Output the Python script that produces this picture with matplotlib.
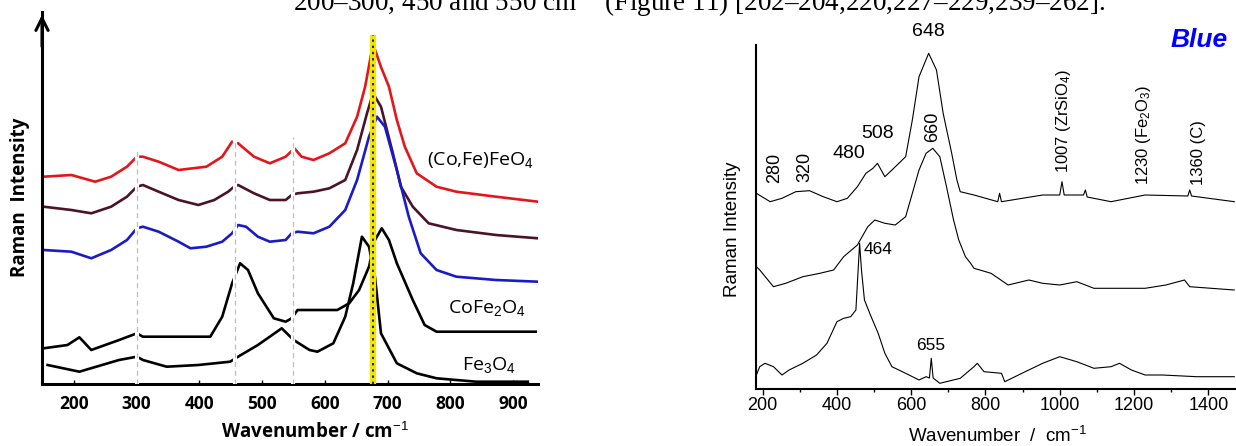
import matplotlib
matplotlib.use("Agg")
import matplotlib.pyplot as plt
from matplotlib.ticker import MultipleLocator

# ---------------- left panel: ferrite spectra (wavenumber, offset intensity) ----------------
red_x = [151.6, 195.9, 233.9, 259.2, 284.5, 300.3, 309.9, 335.1, 366.8, 411.1, 436.4, 452.2, 461.7,
         487.1, 512.3, 537.6, 551.5, 563.0, 582.0, 607.3, 632.6, 651.5, 664.3, 676.9, 689.6, 702.3,
         714.9, 727.6, 746.6, 778.2, 809.8, 873.1, 940.0]
red_y = [207.3, 209, 202.3, 207.3, 217.3, 227.3, 227.3, 222.3, 214, 217.3, 227.3, 242.3, 240.7,
         227.3, 220.7, 227.3, 235.7, 227.3, 224, 230.7, 240.7, 267.3, 297.3, 340, 317, 297.3,
         264, 237.3, 210.7, 197.3, 192.3, 187.3, 182.3]

maroon_x = [151.6, 195.9, 227.6, 259.2, 284.5, 300.3, 309.9, 335.1, 366.8, 398.4, 423.7, 445.9, 455.3,
            461.7, 487.1, 512.3, 537.6, 547.1, 556.6, 582.0, 607.3, 632.6, 651.5, 667.3, 676.9, 689.6,
            708.6, 721.3, 740.3, 765.6, 809.8, 873.1, 940.0]
maroon_y = [177.3, 174, 170.7, 177.3, 187.3, 197.3, 199, 192.3, 184, 179, 184, 192.3, 197.3,
            199, 190.7, 184, 184, 189, 190.7, 192.3, 195.7, 204, 234, 270.7, 290.7, 277.3,
            230.7, 197.3, 177.3, 160.7, 154, 149, 145.7]

blue_x = [151.6, 195.9, 227.6, 259.2, 284.5, 300.3, 309.9, 335.1, 366.8, 385.8, 411.1, 436.4, 452.2,
          461.7, 474.4, 493.3, 512.3, 537.6, 547.1, 556.6, 582.0, 607.3, 632.6, 651.5, 670.5, 683.2,
          695.9, 714.9, 733.9, 752.9, 778.2, 809.8, 873.1, 940.0]
blue_y = [134, 132.3, 125.7, 134, 144, 155.7, 157.3, 152.3, 142.3, 135.7, 137.3, 142.3, 150.7,
          159, 157.3, 147.3, 142.3, 144, 150.7, 152.3, 150.7, 157.3, 174, 204, 247.3, 267.3,
          257.3, 214, 167.3, 130.7, 114, 107.3, 104, 102.3]

cofe_x = [151.6, 189.6, 208.6, 227.6, 272, 300.3, 309.9, 417.4, 436.4, 452.2, 464.9, 477.5, 493.3,
          518.7, 537.6, 547.1, 556.6, 619.9, 638.9, 654.7, 670.5, 680, 690.8, 702.3, 714.9, 740.3,
          759.2, 778.2, 936.4]
cofe_y = [35.7, 39, 46.7, 34, 44, 50.7, 47.3, 47.3, 67.3, 100.7, 120.7, 114, 90.7,
          65.7, 62.3, 65.7, 74, 74, 80.7, 94, 117.3, 144, 155.7, 144, 120.7, 84,
          59, 52.3, 52.3]

fe3o4_x = [157.9, 208.6, 271.8, 300.3, 309.9, 347.8, 398.4, 449, 461.7, 493.3, 531.3, 550.3, 575.6,
           588.3, 613.6, 632.6, 645.3, 659.2, 670.5, 680, 689.6, 714.9, 746.6, 778.2, 841.5, 923.8]
fe3o4_y = [19, 12.3, 24, 27.3, 24, 17.3, 19, 22.3, 27.3, 39, 55.7, 44, 34,
           32.3, 40.7, 67.3, 100.7, 147.3, 137.3, 107.3, 50.7, 20.7, 10.7, 5.7, 2.3, 2.3]

left_ticks = [200, 300, 400, 500, 600, 700, 800, 900]
guide_x = [300.3, 457, 550]
guide_top = [234, 244, 247]
yellow_x = 677

# ---------------- right panel: "Blue" spectra ----------------
top_x = [183, 220, 252, 289, 326, 363, 400, 428, 455, 478, 497, 509, 529, 548, 585, 603, 621, 647,
         668, 686, 709, 723, 732, 769, 833, 838, 843, 954, 1000, 1006, 1012, 1064, 1069, 1074,
         1138, 1230, 1345, 1350, 1355, 1470]
top_y = [195.7, 187.3, 190.7, 197.3, 198.3, 192.3, 187.3, 190.7, 202.3, 215.7, 220.7, 225.7, 212.3,
         219, 232.3, 269, 312.3, 335.7, 319, 275.7, 235.7, 209, 197.3, 194, 187.3, 195.7, 187.3,
         194, 194, 207.3, 194, 194, 199, 192, 187.3, 194, 193, 199, 193, 187.3]

mid_x = [183, 192, 229, 262, 308, 354, 391, 418, 455, 483, 502, 529, 557, 585, 603, 621, 640, 658,
         677, 695, 714, 728, 746, 760, 769, 815, 861, 917, 954, 1000, 1046, 1092, 1138, 1230,
         1286, 1336, 1350, 1470]
mid_y = [122.3, 119, 102.3, 105.7, 112.3, 115.7, 119, 132.3, 144, 162.3, 169, 165.7, 164, 172.3,
         195.7, 219, 235.7, 240.7, 232.3, 202.3, 169, 149, 132.3, 125.7, 120.7, 115.7, 104, 109,
         105.7, 104, 107.3, 100.7, 100.7, 100.7, 104, 109, 102.3, 99]

bot_x = [183, 192, 206, 229, 252, 271, 308, 345, 373, 400, 418, 437, 451, 457, 461, 466, 474, 492,
         511, 529, 548, 585, 621, 640, 649, 654, 659, 677, 732, 769, 778, 796, 843, 852, 907, 954,
         1000, 1046, 1092, 1138, 1161, 1193, 1230, 1276, 1369, 1470]
bot_y = [14, 22.3, 25.7, 22.3, 14, 19, 25.7, 34, 45.7, 67.3, 70.7, 72.3, 79, 119, 145.7, 119, 89,
         72.3, 55.7, 35.7, 22.3, 15.7, 9, 12.3, 11, 30.7, 11, 5.7, 10.7, 22.3, 25.7, 17.3, 15.7,
         7.3, 17.3, 25.7, 32.3, 27.3, 20.7, 22.3, 25.7, 19, 14, 14, 12.3, 12.3]

right_ticks = [200, 400, 600, 800, 1000, 1200, 1400]

plt.rcParams['mathtext.fontset'] = 'custom'
plt.rcParams['mathtext.rm'] = 'Liberation Sans'
plt.rcParams['mathtext.it'] = 'Liberation Sans:italic'

W, H = 1236, 446
fig = plt.figure(figsize=(W / 100, H / 100), dpi=100)

# cut-off line of body text at the top
fig.text(293 / W, 1 - 11 / H,
         "200\u2013300, 450 and 550 cm$^{-1}$ (Figure 11) [202\u2013204,220,227\u2013229,239\u2013262].",
         family='Liberation Serif', fontsize=19.5, va='baseline', ha='left')

# ---------------- left axes ----------------
ax1 = fig.add_axes([42 / W, (H - 384) / H, (538 - 42) / W, (384 - 12) / H])
ax1.set_xlim(149, 940)
ax1.set_ylim(0, 372)
lw = 1.9
ax1.plot(red_x, red_y, color='#e3161b', lw=lw, solid_joinstyle='round')
ax1.plot(maroon_x, maroon_y, color='#4a1426', lw=lw, solid_joinstyle='round')
ax1.plot(blue_x, blue_y, color='#1a1ac8', lw=lw, solid_joinstyle='round')
ax1.plot(cofe_x, cofe_y, color='black', lw=lw, solid_joinstyle='round')
ax1.plot(fe3o4_x, fe3o4_y, color='black', lw=lw, solid_joinstyle='round')

for gx, gt in zip(guide_x, guide_top):
    ax1.vlines(gx, 0, gt, color='white', lw=3, zorder=3)
    ax1.vlines(gx, 0, gt, color='#bdbdbd', lw=0.9, linestyles=(0, (4, 3)), zorder=4)
ax1.vlines(yellow_x, 0, 349, color='#f2e600', lw=4.5, zorder=5)
ax1.vlines(yellow_x, 0, 349, color='#222222', lw=1.4, linestyles=(0, (1.2, 2)), zorder=6)

for s in ['top', 'right']:
    ax1.spines[s].set_visible(False)
for s in ['left', 'bottom']:
    ax1.spines[s].set_linewidth(2.2)
ax1.annotate('', xy=(0, 1.0), xytext=(0, 0.9), xycoords='axes fraction',
             arrowprops=dict(arrowstyle='->', lw=2.2, mutation_scale=22, color='black'))
ax1.set_yticks([])
ax1.set_xticks(left_ticks)
ax1.tick_params(axis='x', direction='in', length=3, width=1, pad=8)
for t in ax1.get_xticklabels():
    t.set_family('Open Sans')
    t.set_fontweight('bold')
    t.set_fontsize(12.5)

lab_kw = dict(family='Open Sans', fontsize=14, va='center', ha='left')
ax1.text(763, 224, "(Co,Fe)FeO$_4$", **lab_kw)
ax1.text(796, 76, "CoFe$_2$O$_4$", **lab_kw)
ax1.text(819, 19, "Fe$_3$O$_4$", **lab_kw)

fig.text(20 / W, 1 - 197 / H, "Raman  Intensity", rotation=90, family='Open Sans',
         fontweight='bold', fontsize=13.5, ha='center', va='center')
fig.text(315 / W, 1 - 433 / H, "Wavenumber / cm$^{-1}$", family='Open Sans',
         fontweight='bold', fontsize=13.5, ha='center', va='center')

# ---------------- right axes ----------------
ax2 = fig.add_axes([755.8 / W, (H - 389) / H, (W - 755.8) / W, (389 - 45) / H])
ax2.set_xlim(181.4, 1474.7)
ax2.set_ylim(0, 344)
ax2.plot(top_x, top_y, color='black', lw=0.8)
ax2.plot(mid_x, mid_y, color='black', lw=0.8)
ax2.plot(bot_x, bot_y, color='black', lw=0.8)
for s in ['top', 'right']:
    ax2.spines[s].set_visible(False)
for s in ['left', 'bottom']:
    ax2.spines[s].set_linewidth(1.5)
ax2.set_yticks([])
ax2.set_xticks(right_ticks)
ax2.xaxis.set_minor_locator(MultipleLocator(100))
ax2.tick_params(axis='x', which='major', direction='out', length=4.5, width=1, pad=1.5)
ax2.tick_params(axis='x', which='minor', direction='out', length=2.5, width=1)
for t in ax2.get_xticklabels():
    t.set_family('Liberation Sans')
    t.set_fontsize(13)

rk = dict(family='Liberation Sans', color='black')
ax2.text(645, 358, "648", fontsize=14, ha='center', va='center', clip_on=False, **rk)
ax2.text(232, 221, "280", fontsize=13, rotation=90, ha='center', va='center', **rk)
ax2.text(313, 222, "320", fontsize=13, rotation=90, ha='center', va='center', **rk)
ax2.text(432, 236, "480", fontsize=14, ha='center', va='center', **rk)
ax2.text(510, 256, "508", fontsize=14, ha='center', va='center', **rk)
ax2.text(658, 262, "660", fontsize=13, rotation=90, ha='center', va='center', **rk)
ax2.text(1009, 216, "1007 (ZrSiO$_4$)", fontsize=12, rotation=90, ha='center', va='bottom', **rk)
ax2.text(1225, 204, "1230 (Fe$_2$O$_3$)", fontsize=12, rotation=90, ha='center', va='bottom', **rk)
ax2.text(1373, 204, "1360 (C)", fontsize=12, rotation=90, ha='center', va='bottom', **rk)
ax2.text(473, 139, "464", fontsize=12.5, ha='left', va='center', **rk)
ax2.text(653, 44, "655", fontsize=12.5, ha='center', va='center', **rk)

fig.text(1228 / W, 1 - 40 / H, "Blue", family='Liberation Sans', fontweight='bold',
         style='italic', fontsize=19, color='#0000ff', ha='right', va='center')
fig.text(732.5 / W, 1 - 229 / H, "Raman Intensity", rotation=90, family='Liberation Sans',
         fontsize=13.5, ha='center', va='center')
fig.text(998 / W, 1 - 436 / H, "Wavenumber  /  cm$^{-1}$", family='Liberation Sans',
         fontsize=13.5, ha='center', va='center')

fig.savefig("out.png", dpi=100)
